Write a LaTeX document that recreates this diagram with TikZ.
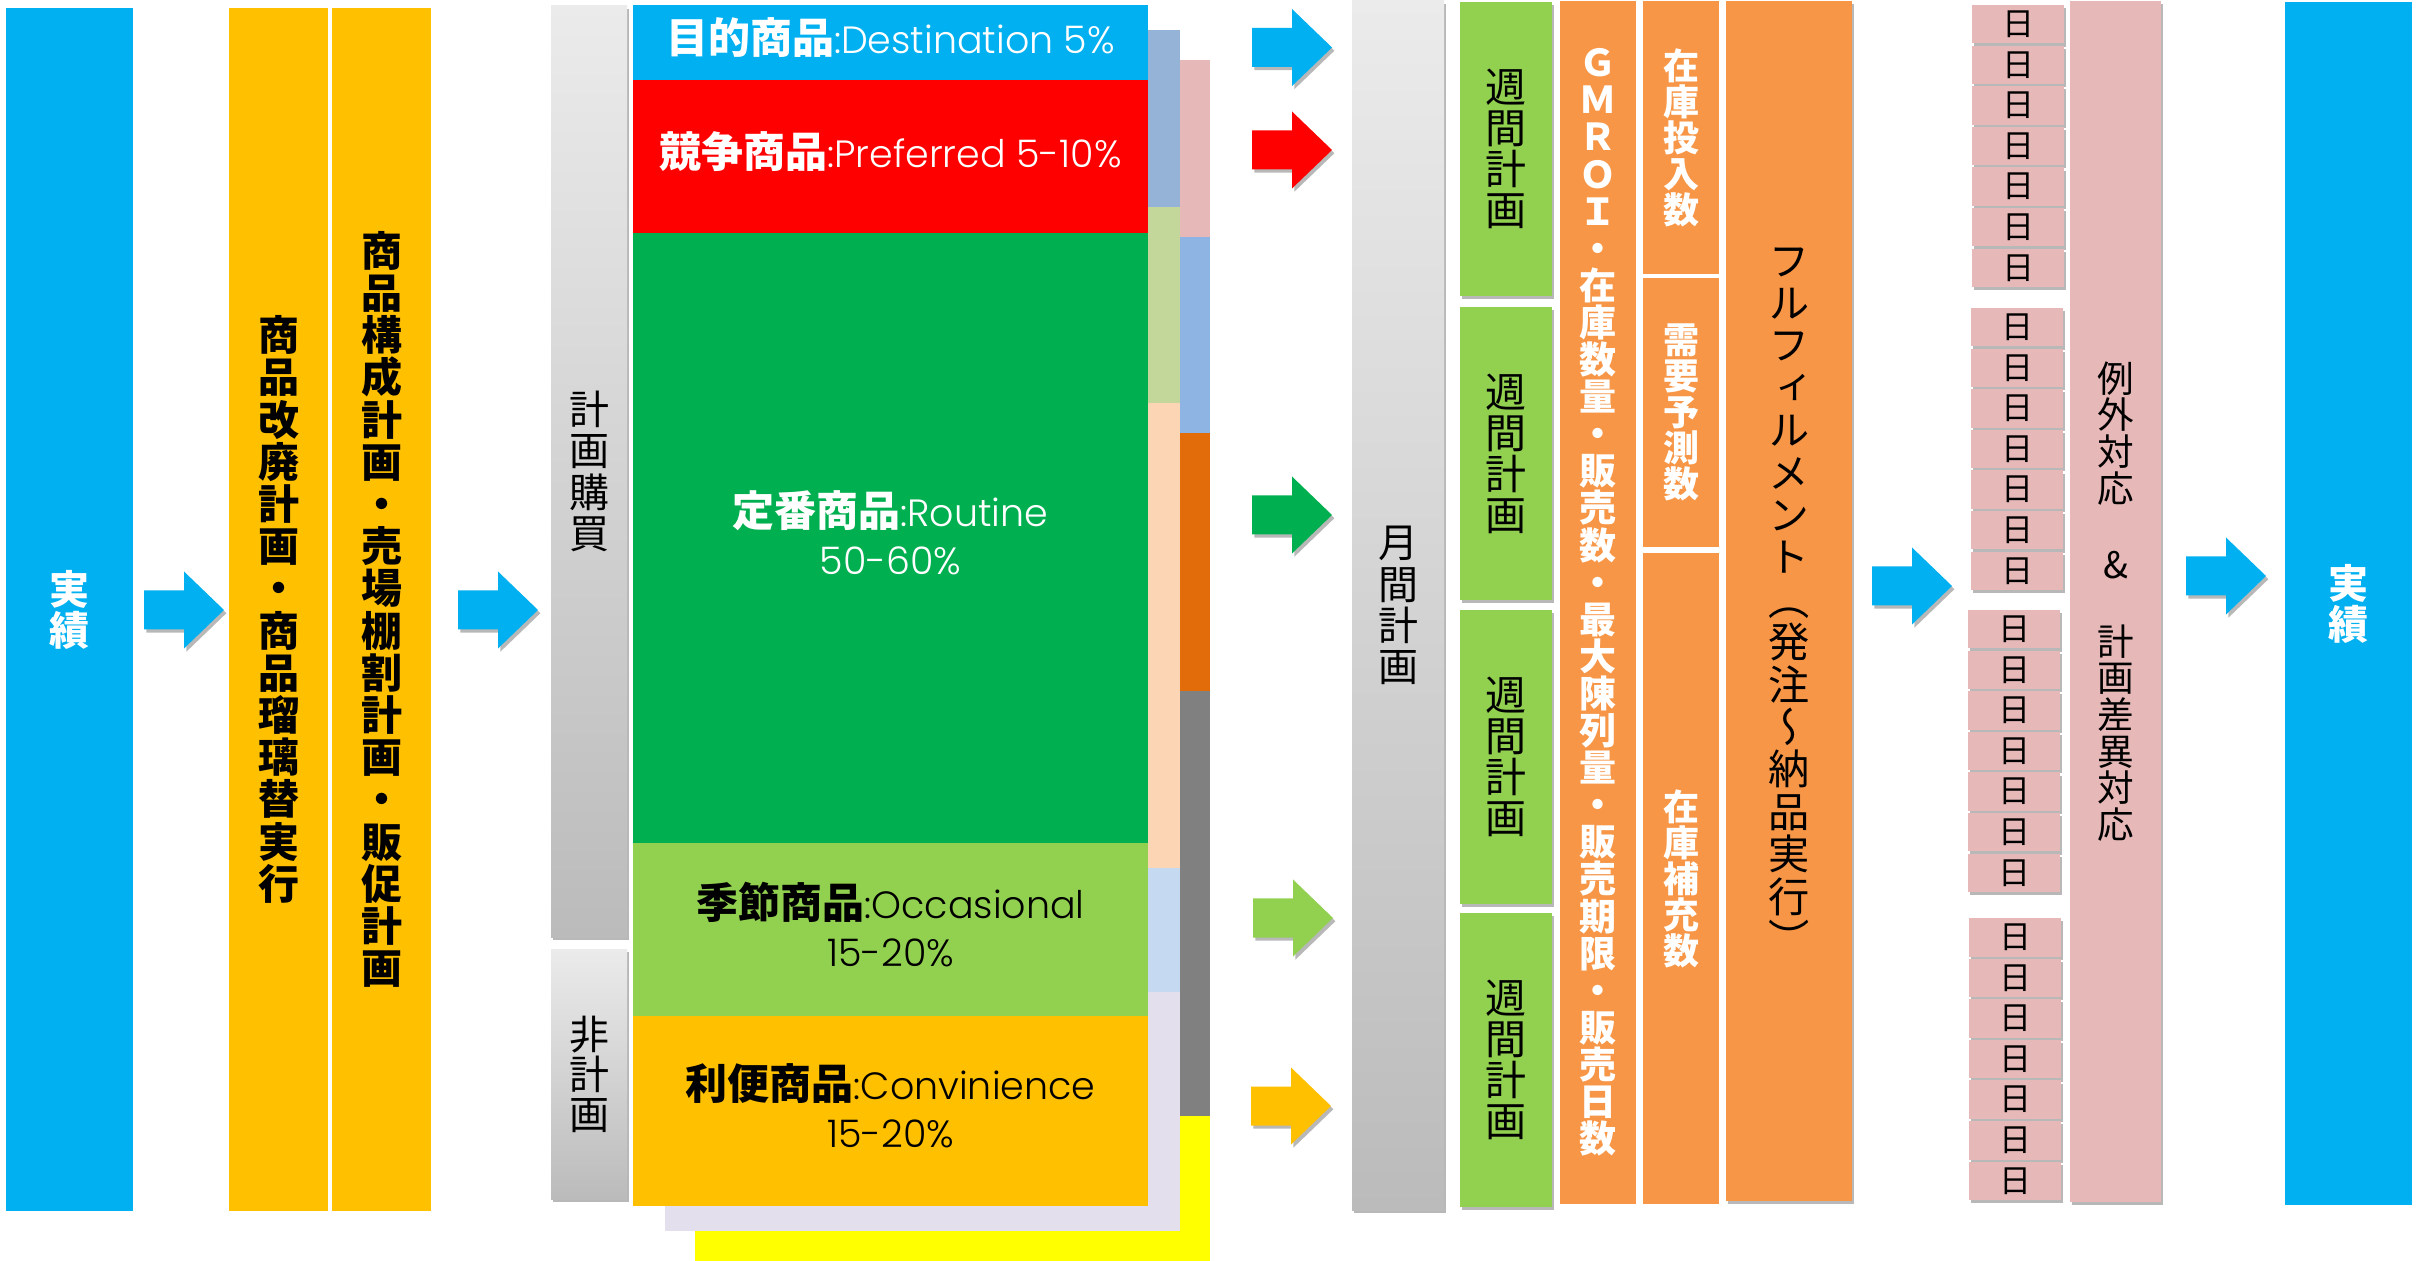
\documentclass[tikz,border=0pt]{standalone}
\usepackage{fontspec}
\setmainfont{Noto Sans CJK JP}
\newfontfamily\vjp[RawFeature=+vert]{Noto Sans CJK JP}
\IfFontExistsTF{Poppins Light}{\newfontfamily\lat{Poppins Light}}{\newfontfamily\lat{Poppins}}
\usetikzlibrary{shadows}

\definecolor{cBlue}{HTML}{00B0F0}
\definecolor{cGold}{HTML}{FFC000}
\definecolor{cRed}{HTML}{FF0000}
\definecolor{cGreen}{HTML}{00B050}
\definecolor{cLGreen}{HTML}{92D050}
\definecolor{cOrange}{HTML}{F79646}
\definecolor{cPink}{HTML}{E6B9B8}
\definecolor{cSteel}{HTML}{95B3D7}
\definecolor{cOlive}{HTML}{C4D79B}
\definecolor{cPeach}{HTML}{FCD5B4}
\definecolor{cIce}{HTML}{C5D9F1}
\definecolor{cLav}{HTML}{E4DFEC}
\definecolor{cCorn}{HTML}{8DB4E2}
\definecolor{cDOrange}{HTML}{E26B0A}
\definecolor{cGray}{HTML}{808080}
\definecolor{cYellow}{HTML}{FFFF00}
\definecolor{gTop}{HTML}{EBEBEB}
\definecolor{gBot}{HTML}{BBBBBB}

\newcommand\latt[1]{{\lat\fontsize{19}{24}\selectfont #1}}
\newcommand\jbold[1]{{\bfseries #1}}

\tikzset{
  box/.style={inner sep=0pt, outer sep=0pt, align=center},
  sh/.style={drop shadow={shadow xshift=1.2pt, shadow yshift=-1.6pt, opacity=0.28, fill=black}},
  gr/.style={top color=gTop, bottom color=gBot, sh},
  vtr/.style 2 args={font={\vjp\fontsize{#1}{#2}\selectfont\lineskiplimit=-50pt\lineskip=0pt}},
  vtb/.style 2 args={font={\vjp\bfseries\fontsize{#1}{#2}\selectfont\lineskiplimit=-50pt\lineskip=0pt}},
  stk/.style={box, font={\fontsize{21}{24}\selectfont\lineskiplimit=-50pt\lineskip=0pt}},
}

\newcommand\rbox[7]{%
  \node[box,#2,anchor=north west,minimum width={(#5-#3)*0.5pt},minimum height={(#6-#4)*0.5pt}] (#1) at (#3,#4) {#7};}

\newcommand\barrow[4]{%
  \fill[#4, sh] (#2,#3-19.5) -- (#2+40,#3-19.5) -- (#2+40,#3-38.5) -- (#2+80,#3)
    -- (#2+40,#3+38.5) -- (#2+40,#3+19.5) -- (#2,#3+19.5) -- cycle;
  \coordinate (#1) at (#2+80,#3);}

\begin{document}
\begin{tikzpicture}[x=0.5pt,y=-0.5pt]
\useasboundingbox (0,0) rectangle (2433,1261);
\fill[white] (0,0) rectangle (2433,1261);

% ---- left result and planning columns
\rbox{act1}{fill=cBlue,text=white,vtb={20}{20.5}}{6}{8}{133}{1211}{実\\績}
\rbox{rev}{fill=cGold,vtb={20.5}{21.1}}{229}{8}{328}{1211}{商\\品\\改\\廃\\計\\画\\・\\商\\品\\瑠\\璃\\替\\実\\行}
\rbox{comp}{fill=cGold,vtb={20.5}{21.1}}{332}{8}{431}{1211}{商\\品\\構\\成\\計\\画\\・\\売\\場\\棚\\割\\計\\画\\・\\販\\促\\計\\画}

\barrow{a1}{144}{610}{cBlue}
\barrow{a2}{458}{610}{cBlue}

% ---- planned / unplanned
\rbox{plan}{gr,vtr={20}{20.6}}{551}{6}{627}{937}{計\\画\\購\\買}
\rbox{nonplan}{gr,vtr={20}{20}}{551}{949}{627}{1199}{非\\計\\画}

% ---- layered back strips
\rbox{byel}{fill=cYellow}{695}{1116}{1210}{1261}{}
\rbox{bpink}{fill=cPink}{1180}{60}{1210}{237}{}
\rbox{bcorn}{fill=cCorn}{1180}{237}{1210}{433}{}
\rbox{bdor}{fill=cDOrange}{1180}{433}{1210}{691}{}
\rbox{bgray}{fill=cGray}{1180}{691}{1210}{1116}{}
\rbox{blav}{fill=cLav}{665}{992}{1180}{1231}{}
\rbox{bsteel}{fill=cSteel}{1148}{30}{1180}{207}{}
\rbox{bolive}{fill=cOlive}{1148}{207}{1180}{403}{}
\rbox{bpeach}{fill=cPeach}{1148}{403}{1180}{868}{}
\rbox{bice}{fill=cIce}{1148}{868}{1180}{992}{}

% ---- product category stack
\rbox{dest}{fill=cBlue}{633}{5}{1148}{80}{}
\rbox{pref}{fill=cRed}{633}{80}{1148}{233}{}
\rbox{rout}{fill=cGreen}{633}{233}{1148}{843}{}
\rbox{occ}{fill=cLGreen}{633}{843}{1148}{1016}{}
\rbox{conv}{fill=cGold}{633}{1016}{1148}{1206}{}
\node[stk,text=white] (destT) at ([yshift=2.5pt]dest.center) {\jbold{目的商品}\latt{:Destination 5\%}};
\node[stk,text=white] (prefT) at ([yshift=2.5pt]pref.center) {\jbold{競争商品}\latt{:Preferred 5-10\%}};
\node[stk,text=white] (routT) at ([yshift=2.5pt]rout.center) {\jbold{定番商品}\latt{:Routine}\\\latt{50-60\%}};
\node[stk,text=black] (occT) at ([yshift=2.5pt]occ.center) {\jbold{季節商品}\latt{:Occasional}\\\latt{15-20\%}};
\node[stk,text=black] (convT) at ([yshift=2.5pt]conv.center) {\jbold{利便商品}\latt{:Convinience}\\\latt{15-20\%}};

\barrow{a3}{1252}{47.5}{cBlue}
\barrow{a4}{1252}{150}{cRed}
\barrow{a5}{1252}{515}{cGreen}
\barrow{a6}{1253}{918}{cLGreen}
\barrow{a7}{1251}{1106}{cGold}

% ---- monthly / weekly
\rbox{month}{gr,vtr={20}{20.6}}{1352}{1}{1444}{1210}{月\\間\\計\\画}
\rbox{wk1}{fill=cLGreen,sh,vtr={20.5}{20.5}}{1460}{2}{1552}{296}{週\\間\\計\\画}
\rbox{wk2}{fill=cLGreen,sh,vtr={20.5}{20.5}}{1460}{307}{1552}{600}{週\\間\\計\\画}
\rbox{wk3}{fill=cLGreen,sh,vtr={20.5}{20.5}}{1460}{610}{1552}{904}{週\\間\\計\\画}
\rbox{wk4}{fill=cLGreen,sh,vtr={20.5}{20.5}}{1460}{913}{1552}{1207}{週\\間\\計\\画}

% ---- orange columns
\rbox{gmroi}{fill=cOrange,text=white,vtb={18.5}{18.55}}{1560}{1}{1636}{1204}{Ｇ\\Ｍ\\Ｒ\\Ｏ\\Ｉ\\・\\在\\庫\\数\\量\\・\\販\\売\\数\\・\\最\\大\\陳\\列\\量\\・\\販\\売\\期\\限\\・\\販\\売\\日\\数}
\rbox{stin}{fill=cOrange,text=white,vtb={18}{18}}{1643}{1}{1719}{274}{在\\庫\\投\\入\\数}
\rbox{dem}{fill=cOrange,text=white,vtb={18}{18}}{1643}{278}{1719}{547}{需\\要\\予\\測\\数}
\rbox{repl}{fill=cOrange,text=white,vtb={18}{18}}{1643}{553}{1719}{1204}{在\\庫\\補\\充\\数}
\rbox{fulf}{fill=cOrange,sh,vtr={20.6}{21.2}}{1726}{1}{1852}{1201}{フ\\ル\\フ\\ィ\\ル\\メ\\ン\\ト\\（\\発\\注\\～\\納\\品\\実\\行\\）}

\barrow{a8}{1872}{586}{cBlue}

% ---- daily boxes
\foreach \g/\tp/\xl in {1/5/1972, 2/308/1971, 3/610/1968, 4/918/1969} {
  \foreach \i in {0,...,6} {
    \pgfmathsetmacro\yt{\tp+\i*40.6}
    \node[box, sh, fill=cPink, anchor=north west, minimum width=46pt, minimum height=19.25pt, vtr={16}{16}] (day\g-\i) at (\xl,\yt) {日};
  }
}

\rbox{exc}{fill=cPink,sh,vtr={18.3}{18.3}}{2070}{1}{2161}{1202}{例\\外\\対\\応\\[20pt]\&\\[20pt]計\\画\\差\\異\\対\\応}

\barrow{a9}{2186}{576}{cBlue}

\rbox{act2}{fill=cBlue,text=white,vtb={20}{20.5}}{2285}{2}{2412}{1205}{実\\績}
\end{tikzpicture}
\end{document}
